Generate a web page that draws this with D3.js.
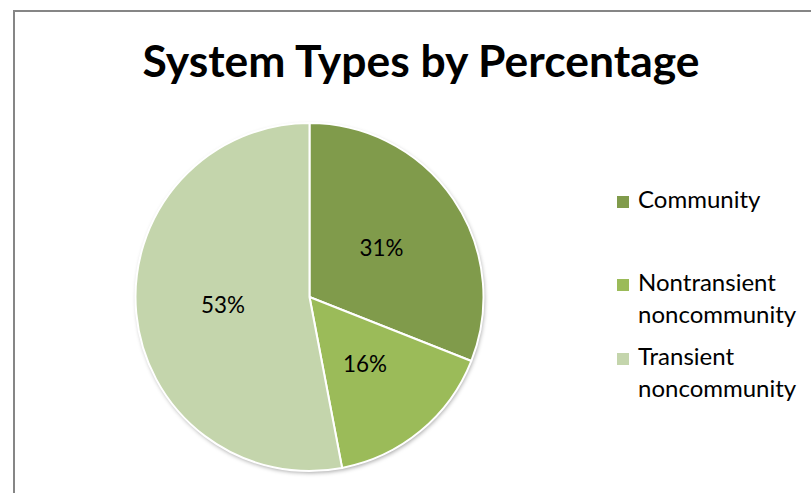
<!DOCTYPE html>
<html>
<head>
<meta charset="utf-8">
<script src="https://cdn.jsdelivr.net/npm/d3@7"></script>
<style>
  body { margin: 0; background: #fff; }
  svg text { font-family: Lato, "Open Sans", sans-serif; }
</style>
</head>
<body>
<div id="chart"></div>
<script>
const title = 'System Types by Percentage'
const categories = ['Community', 'Nontransient noncommunity', 'Transient noncommunity']
const legendLines = [['Community'], ['Nontransient', 'noncommunity'], ['Transient', 'noncommunity']]
const values = [31, 16, 53]
const colors = ['#809B4B', '#9BBB59', '#C4D5AC']

const width = 811, height = 493
const cx = 309.5, cy = 297, radius = 174

const svg = d3.select('#chart').append('svg').attr('width', width).attr('height', height)

// outer chart border (right/bottom edges are cut off in the picture)
svg.append('rect')
    .attr('x', 14).attr('y', 11)
    .attr('width', 1000).attr('height', 1000)
    .attr('fill', 'none')
    .attr('stroke', '#868686')
    .attr('stroke-width', 2)

const defs = svg.append('defs')
const shadow = defs.append('filter').attr('id', 'shadow')
    .attr('x', '-10%').attr('y', '-10%').attr('width', '120%').attr('height', '120%')
shadow.append('feDropShadow')
    .attr('dx', 1).attr('dy', 2).attr('stdDeviation', 2)
    .attr('flood-color', '#000').attr('flood-opacity', 0.35)

// shrink/grow a font so a sample string spans a given width
const fitSize = (sample, base, target, weight) => {
    const tmp = svg.append('text').style('font-size', base + 'px')
        .style('font-weight', weight || 'normal').text(sample)
    const w = tmp.node().getComputedTextLength()
    tmp.remove()
    return base * target / w
}

// title, sized to the span it has in the picture
svg.append('text')
    .attr('x', 421).attr('y', 77)
    .attr('text-anchor', 'middle')
    .style('font-weight', 'bold')
    .style('font-size', fitSize(title, 40, 557, 'bold') + 'px')
    .attr('fill', '#000')
    .text(title)

const pie = d3.pie().sort(null).value(d => d)
const arc = d3.arc().innerRadius(0).outerRadius(radius)

const g = svg.append('g').attr('transform', 'translate(' + cx + ',' + cy + ')')

g.append('circle').attr('r', radius).attr('fill', '#fff').attr('filter', 'url(#shadow)')

g.selectAll('path')
    .data(pie(values))
    .enter()
    .append('path')
    .attr('d', arc)
    .attr('fill', (d, i) => colors[i])
    .attr('stroke', '#fff')
    .attr('stroke-width', 2)
    .attr('stroke-linejoin', 'round')

const labelSize = Math.min(fitSize('31%', 21, 44), 23)
g.selectAll('text.lbl')
    .data(pie(values))
    .enter()
    .append('text')
    .attr('class', 'lbl')
    .attr('transform', d => 'translate(' + arc.centroid(d) + ')')
    .attr('text-anchor', 'middle')
    .attr('dy', '0.35em')
    .style('font-size', labelSize + 'px')
    .attr('fill', '#000')
    .text(d => d.data + '%')

// legend
const legendSize = Math.min(fitSize('noncommunity', 21, 164), 24)
const legendY = [208, 291, 365]
const legend = svg.append('g')
legendLines.forEach((lines, i) => {
    legend.append('rect')
        .attr('x', 617).attr('y', legendY[i] - 12)
        .attr('width', 12).attr('height', 12)
        .attr('fill', colors[i])
    legend.append('text')
        .attr('x', 638).attr('y', legendY[i])
        .style('font-size', legendSize + 'px')
        .attr('fill', '#000')
        .selectAll('tspan')
        .data(lines)
        .enter()
        .append('tspan')
        .attr('x', 638)
        .attr('dy', (d, j) => j ? 32 : 0)
        .text(d => d)
})
</script>
</body>
</html>
